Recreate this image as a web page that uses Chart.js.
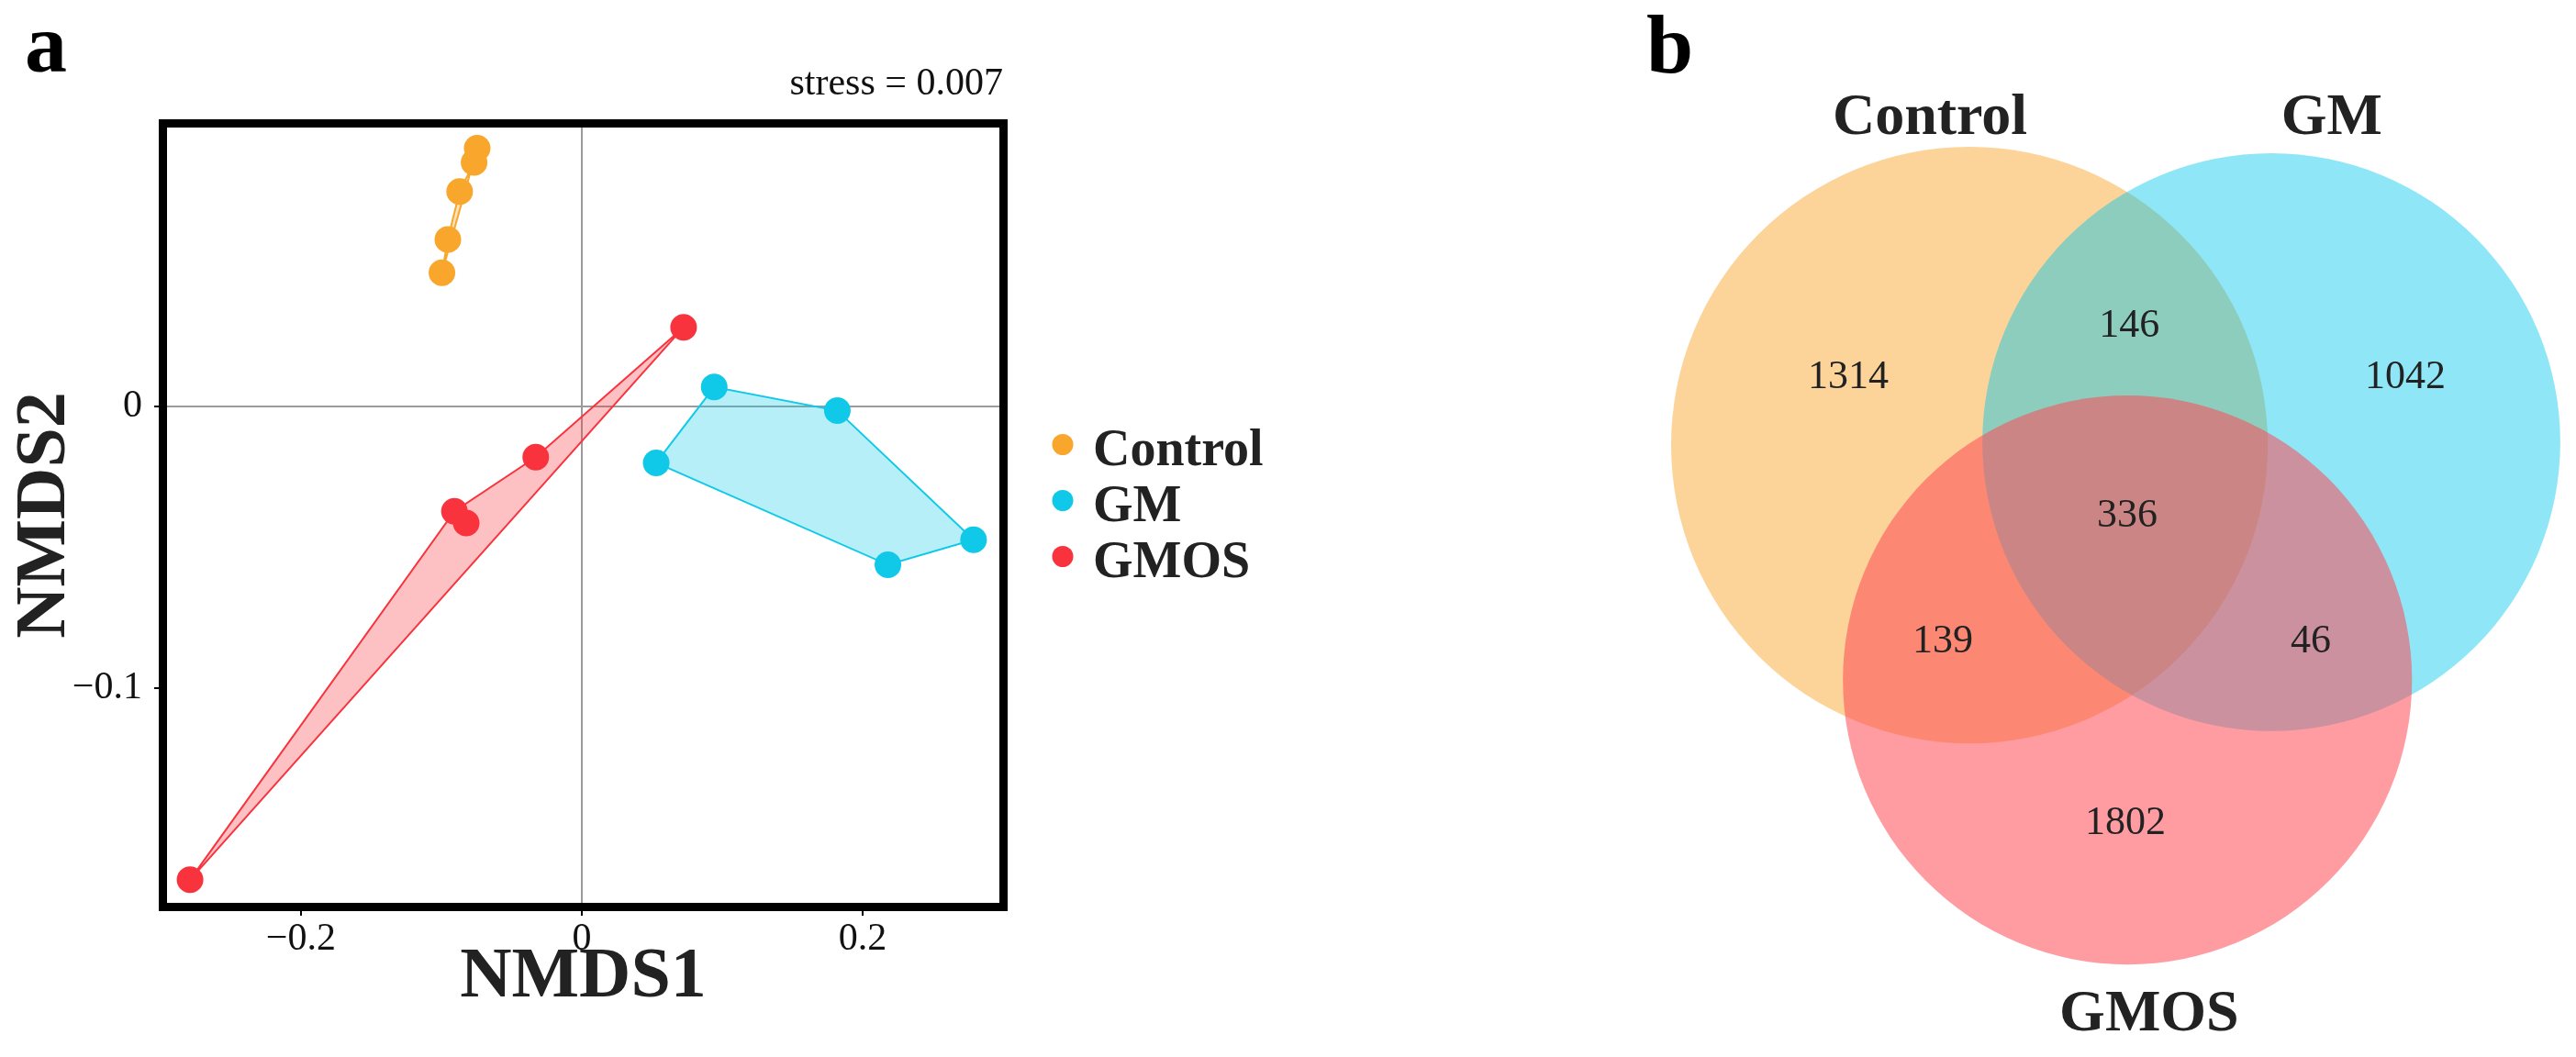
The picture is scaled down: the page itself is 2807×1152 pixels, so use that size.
<!DOCTYPE html>
<html>
<head>
<meta charset="utf-8">
<title>NMDS and Venn</title>
<script src="https://cdn.jsdelivr.net/npm/chart.js@4.4.0/dist/chart.umd.min.js"></script>
<style>
    html, body { margin: 0; padding: 0; background: #fff; }
    body { width: 2807px; height: 1152px; position: relative; overflow: hidden; font-family: 'Liberation Serif', serif; }
    .panel-label { position: absolute; font-weight: bold; font-size: 92px; line-height: 1; color: #000; }
    #nmds-wrap { position: absolute; left: 0; top: 0; width: 1400px; height: 1152px; }
    #venn-wrap { position: absolute; left: 1700px; top: 0; width: 1107px; height: 1152px; }
</style>
</head>
<body>
<div class="panel-label" style="left:27px; top:1px;">a</div>
<div class="panel-label" style="left:1794px; top:2px;">b</div>
<div id="nmds-wrap"><canvas id="nmds-chart"></canvas></div>
<div id="venn-wrap"><canvas id="venn-chart"></canvas></div>

<script>
// ============================================
// PANEL A - NMDS ORDINATION
// ============================================

const groups = ['Control', 'GM', 'GMOS'];
const groupColors = ['#F9A62C', '#10C9E8', '#F8333D'];

const controlX = [-0.0745, -0.0767, -0.0870, -0.0954, -0.0996];
const controlY = [0.0917, 0.0866, 0.0763, 0.0593, 0.0475];
const gmX = [0.053, 0.0943, 0.182, 0.279, 0.218];
const gmY = [-0.020, 0.0069, -0.0015, -0.0473, -0.0562];
const gmosX = [-0.279, -0.0907, -0.0823, -0.0328, 0.0725];
const gmosY = [-0.168, -0.0372, -0.0414, -0.0180, 0.0281];

// outline order of each group's polygon, as drawn in the figure
const controlHull = [4, 3, 2, 1, 0];
const gmHull = [0, 1, 2, 3, 4];
const gmosHull = [0, 1, 3, 4];

const xTicks = [-0.2, 0, 0.2];
const yTicks = [-0.1, 0];
const xRange = [-0.2954, 0.2974];
const yRange = [-0.1762, 0.0990];
const stressValue = 0.007;

// ============================================
// PANEL B - VENN
// ============================================

const vennSets = ['Control', 'GM', 'GMOS'];
const vennColors = ['rgba(249, 169, 53, 0.5)', 'rgba(0, 199, 237, 0.44)', 'rgba(253, 75, 86, 0.55)'];
const regionNames = ['Control', 'Control+GM', 'GM', 'Control+GM+GMOS', 'Control+GMOS', 'GM+GMOS', 'GMOS'];
const regionCounts = [1314, 146, 1042, 336, 139, 46, 1802];

const SERIF = "'Liberation Serif', 'Times New Roman', serif";
const TEXT = '#222';

Chart.defaults.font.family = SERIF;
Chart.defaults.color = TEXT;

function toPoints(xs, ys) {
    return xs.map((x, i) => ({ x: x, y: ys[i] }));
}

function withAlpha(hex, a) {
    const n = parseInt(hex.slice(1), 16);
    return `rgba(${(n >> 16) & 255}, ${(n >> 8) & 255}, ${n & 255}, ${a})`;
}

function fmtTick(v) {
    if (Math.abs(v) < 1e-9) return '0';
    return (v < 0 ? '\u2212' : '') + Math.abs(v).toFixed(1);
}

const groupX = [controlX, gmX, gmosX];
const groupY = [controlY, gmY, gmosY];
const groupHull = [controlHull, gmHull, gmosHull];

function buildNmdsDatasets() {
    const pointSets = groups.map((g, i) => ({
        type: 'scatter',
        label: g,
        data: toPoints(groupX[i], groupY[i]),
        pointRadius: 14.5,
        pointBackgroundColor: groupColors[i],
        pointBorderWidth: 0,
        showLine: false,
        order: 1
    }));

    const hullSets = groups.map((g, i) => {
        const pts = toPoints(groupX[i], groupY[i]);
        const ring = groupHull[i].map(k => pts[k]);
        ring.push(ring[0]);
        return {
            type: 'line',
            label: g + ' hull',
            data: ring,
            borderColor: groupColors[i],
            borderWidth: 2,
            backgroundColor: withAlpha(groupColors[i], 0.3),
            fill: 'shape',
            pointRadius: 0,
            tension: 0,
            order: 2
        };
    });

    return pointSets.concat(hullSets);
}

// box frame, stress note and group legend
const nmdsDecor = {
    id: 'nmdsDecor',
    afterDraw(chart) {
        const { ctx, chartArea: a } = chart;
        ctx.save();

        ctx.lineWidth = 9;
        ctx.strokeStyle = '#000';
        ctx.strokeRect(a.left - 4.5, a.top - 4.5, a.right - a.left + 9, a.bottom - a.top + 9);

        ctx.font = `42px ${SERIF}`;
        ctx.fillStyle = '#111';
        ctx.textAlign = 'right';
        ctx.textBaseline = 'alphabetic';
        ctx.fillText('stress = ' + stressValue.toFixed(3), a.right + 4, a.top - 36);

        const mid = (a.top + a.bottom) / 2;
        ctx.textAlign = 'left';
        ctx.font = `bold 56px ${SERIF}`;
        groups.forEach((g, i) => {
            const rowY = mid - 74 + i * 61;
            ctx.beginPath();
            ctx.fillStyle = groupColors[i];
            ctx.arc(a.right + 69, rowY - 3, 11.5, 0, Math.PI * 2);
            ctx.fill();
            ctx.fillStyle = TEXT;
            ctx.fillText(g, a.right + 102, rowY + 19);
        });

        ctx.restore();
    }
};

new Chart(document.getElementById('nmds-chart'), {
    type: 'scatter',
    data: { datasets: buildNmdsDatasets() },
    options: {
        responsive: true,
        maintainAspectRatio: false,
        devicePixelRatio: 1,
        animation: false,
        events: [],
        layout: { padding: { top: 139, right: 311, bottom: 0, left: 0 } },
        plugins: {
            legend: { display: false },
            tooltip: { enabled: false }
        },
        scales: {
            x: {
                type: 'linear',
                min: xRange[0],
                max: xRange[1],
                afterBuildTicks: (s) => { s.ticks = xTicks.map(v => ({ value: v })); },
                afterFit: (s) => { s.height = 168; },
                border: { display: false },
                grid: {
                    color: (c) => (c.tick && Math.abs(c.tick.value) < 1e-9 ? '#9b9b9b' : 'rgba(0,0,0,0)'),
                    lineWidth: 2,
                    drawTicks: true,
                    tickLength: 14,
                    tickColor: '#000',
                    tickWidth: 2
                },
                ticks: {
                    callback: fmtTick,
                    font: { size: 42 },
                    color: '#111',
                    padding: 1,
                    maxRotation: 0,
                    autoSkip: false
                },
                title: {
                    display: true,
                    text: 'NMDS1',
                    color: TEXT,
                    font: { size: 78, weight: 'bold' },
                    padding: { top: 0, bottom: 39 }
                }
            },
            y: {
                type: 'linear',
                min: yRange[0],
                max: yRange[1],
                afterBuildTicks: (s) => { s.ticks = yTicks.map(v => ({ value: v })); },
                afterFit: (s) => { s.width = 182; },
                border: { display: false },
                grid: {
                    color: (c) => (c.tick && Math.abs(c.tick.value) < 1e-9 ? '#9b9b9b' : 'rgba(0,0,0,0)'),
                    lineWidth: 2,
                    drawTicks: true,
                    tickLength: 14,
                    tickColor: '#000',
                    tickWidth: 2
                },
                ticks: {
                    callback: fmtTick,
                    font: { size: 42 },
                    color: '#111',
                    padding: 13,
                    autoSkip: false
                },
                title: {
                    display: true,
                    text: 'NMDS2',
                    color: TEXT,
                    font: { size: 78, weight: 'bold' },
                    padding: { top: 3, bottom: 0 }
                }
            }
        }
    },
    plugins: [nmdsDecor]
});

// ============================================
// VENN LAYOUT (unit = circle spacing)
// ============================================

const vennLayout = {
    x: [-1.922, 1.5375],
    y: [-2.094, 1.506],
    centreX: [-0.528, 0.5, 0.01],
    centreY: [-0.01, 0, -0.81],
    radius: [1.016, 0.984, 0.969],
    setLabelX: [-0.6625, 0.706, 0.084],
    setLabelY: [1.109, 1.109, -1.947],
    regionX: [-0.941, 0.016, 0.956, 0.009, -0.619, 0.634, 0.003],
    regionY: [0.228, 0.400, 0.228, -0.244, -0.672, -0.672, -1.291]
};

const vennText = {
    id: 'vennText',
    afterDatasetsDraw(chart) {
        const { ctx, scales: { x, y } } = chart;
        ctx.save();
        ctx.textAlign = 'center';
        ctx.textBaseline = 'middle';
        ctx.fillStyle = TEXT;

        ctx.font = `bold 64px ${SERIF}`;
        vennSets.forEach((s, i) => {
            ctx.fillText(s, x.getPixelForValue(vennLayout.setLabelX[i]), y.getPixelForValue(vennLayout.setLabelY[i]) + 2);
        });

        ctx.font = `44px ${SERIF}`;
        regionCounts.forEach((n, i) => {
            ctx.fillText(String(n), x.getPixelForValue(vennLayout.regionX[i]), y.getPixelForValue(vennLayout.regionY[i]) + 2);
        });
        ctx.restore();
    }
};

new Chart(document.getElementById('venn-chart'), {
    type: 'scatter',
    data: {
        datasets: vennSets.map((s, i) => ({
            label: s,
            data: [{ x: vennLayout.centreX[i], y: vennLayout.centreY[i] }],
            backgroundColor: vennColors[i],
            borderWidth: 0,
            pointRadius: (c) => {
                const sx = c.chart.scales.x;
                return Math.abs(sx.getPixelForValue(vennLayout.radius[c.datasetIndex]) - sx.getPixelForValue(0));
            },
            order: 3 - i
        }))
    },
    options: {
        responsive: true,
        maintainAspectRatio: false,
        devicePixelRatio: 1,
        animation: false,
        events: [],
        layout: { padding: 0 },
        plugins: {
            legend: { display: false },
            tooltip: { enabled: false }
        },
        scales: {
            x: { type: 'linear', display: false, min: vennLayout.x[0], max: vennLayout.x[1] },
            y: { type: 'linear', display: false, min: vennLayout.y[0], max: vennLayout.y[1] }
        }
    },
    plugins: [vennText]
});
</script>
</body>
</html>
